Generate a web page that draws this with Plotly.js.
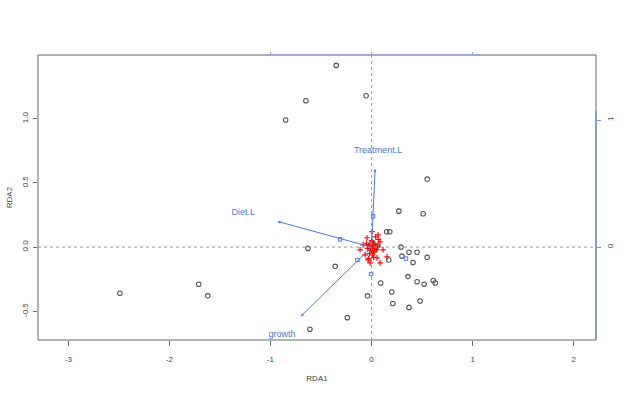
<!DOCTYPE html>
<html><head><meta charset="utf-8">
<script src="https://cdn.plot.ly/plotly-3.0.1.min.js"></script>
<style>html,body{margin:0;padding:0;background:#fff;}#chart{width:644px;height:393px;}</style>
</head><body><div id="chart"></div>
<script>
// Site scores (black open circles)
const siteX = [-0.35,-0.054,-0.65,-0.85,0.55,0.27,0.51,0.15,0.18,0.06,0.29,0.37,0.45,0.55,0.30,0.17,0.41,0.36,0.45,0.52,0.61,0.63,0.09,0.20,-0.04,0.21,0.37,0.48,-0.36,-0.63,-0.24,-0.61,-1.71,-1.62,-2.49];
const siteY = [1.416,1.18,1.14,0.99,0.53,0.28,0.26,0.12,0.12,0.01,0.00,-0.04,-0.04,-0.08,-0.07,-0.10,-0.12,-0.23,-0.27,-0.29,-0.26,-0.28,-0.28,-0.35,-0.38,-0.44,-0.47,-0.42,-0.15,-0.01,-0.55,-0.64,-0.29,-0.38,-0.36];
// Species scores (red crosses)
const spX = [0.01,-0.02,0.03,0.00,-0.03,0.02,0.04,-0.01,0.01,0.05,-0.04,0.02,0.00,0.03,-0.02,0.06,0.01,-0.05,0.03,0.00,-0.045,0.064,0.084,-0.064,0.054,0.114,-0.015,0.084,-0.084,0.005,-0.035,0.153,-0.114,0.02,0.07,-0.03,0.04];
const spY = [0.00,0.02,-0.01,-0.03,0.01,0.03,0.00,-0.02,0.04,-0.02,-0.01,-0.04,0.02,0.02,-0.05,0.01,-0.06,0.03,-0.03,0.05,0.073,0.096,0.041,-0.06,-0.084,-0.021,-0.123,-0.123,0.018,0.12,-0.10,-0.076,-0.021,-0.08,0.06,-0.09,0.08];
// Centroids (blue marks)
const cenX = [0.015,-0.31,-0.005,0.34,-0.14];
const cenY = [0.24,0.06,-0.21,-0.09,-0.10];
// Biplot arrows
const arrowNames = ["Treatment.L","Diet.L","growth"];
const arrowX = [0.035,-0.93,-0.70];
const arrowY = [0.61,0.20,-0.54];
const labelX = [0.064,-1.27,-0.886];
const labelY = [0.75,0.27,-0.685];
// Axis ticks
const xTicks = [-3,-2,-1,0,1,2];
const yTicks = [-0.5,0,0.5,1,1.5];
const yTickText = ["-0.5","0.0","0.5","1.0","1.5"];
const topTicks = [-1,0,1];
const rightTicks = [0,0.99];
const rightTickText = ["0","1"];

const blue = "#4f74d6";
const font = "Liberation Sans, Arial, sans-serif";

const traces = [
  {x: siteX, y: siteY, mode: "markers", type: "scatter",
   marker: {symbol: "circle-open", size: 4.5, color: "#555", line: {width: 1.1, color: "#555"}}, hoverinfo: "skip"},
  {x: spX, y: spY, mode: "markers", type: "scatter",
   marker: {symbol: "cross-thin-open", size: 4, color: "#f01010", line: {width: 1.2, color: "#f01010"}}, hoverinfo: "skip"},
  {x: cenX, y: cenY, mode: "markers", type: "scatter",
   marker: {symbol: "square-open", size: 3.5, color: blue, line: {width: 1, color: blue}}, hoverinfo: "skip"},
  {x: labelX, y: labelY, text: arrowNames, mode: "text", type: "scatter",
   textfont: {family: "Liberation Sans Narrow, Liberation Sans, Arial", size: 9, color: blue}, hoverinfo: "skip"},
  {x: [0], y: [0], xaxis: "x2", yaxis: "y2", mode: "markers", marker: {opacity: 0}, hoverinfo: "skip"}
];

const annotations = arrowNames.map((n, i) => ({
  x: arrowX[i], y: arrowY[i], xref: "x", yref: "y", ax: 0, ay: 0, axref: "x", ayref: "y",
  showarrow: true, arrowhead: 2, arrowsize: 0.6, arrowwidth: 1, arrowcolor: blue, text: ""
}));

const shapes = [
  {type: "line", xref: "x", yref: "paper", x0: 0, x1: 0, y0: 0, y1: 1, line: {color: "#999", width: 1, dash: "dot"}},
  {type: "line", xref: "paper", yref: "y", x0: 0, x1: 1, y0: 0, y1: 0, line: {color: "#999", width: 1, dash: "dot"}},
  {type: "rect", xref: "paper", yref: "paper", x0: 0, x1: 1, y0: 0, y1: 1, line: {color: "#666", width: 1}},
  {type: "line", xref: "x", yref: "paper", x0: -1.05, x1: 1.07, y0: 1, y1: 1, line: {color: "#8fa6e6", width: 1.2}},
  {type: "line", xref: "paper", yref: "y", x0: 1, x1: 1, y0: -0.724, y1: 1.06, line: {color: "#6f8fe0", width: 1.2}}
];

const layout = {
  width: 644, height: 393,
  margin: {l: 38, r: 48, t: 55, b: 53},
  paper_bgcolor: "#fff", plot_bgcolor: "#fff",
  showlegend: false,
  font: {family: font, size: 9, color: "#444"},
  xaxis: {range: [-3.30, 2.22], tickvals: xTicks, ticktext: xTicks.map(String), ticks: "outside", ticklen: 5,
          tickcolor: "#666", showgrid: false, zeroline: false, showline: false, ticklabelstandoff: 6,
          tickfont: {size: 8, color: "#444"},
          title: {text: "RDA1", font: {size: 8, color: "#444"}, standoff: 12}},
  yaxis: {range: [-0.724, 1.497], tickvals: yTicks, ticktext: yTickText, ticks: "outside", ticklen: 4,
          tickcolor: "#666", showgrid: false, zeroline: false, showline: false, tickangle: -90,
          tickfont: {size: 8, color: "#444"}, ticklabelstandoff: 2,
          title: {text: "RDA2", font: {size: 8, color: "#444"}, standoff: 6}},
  xaxis2: {overlaying: "x", side: "top", range: [-3.30, 2.22], tickvals: topTicks, ticks: "outside", ticklen: 2,
           tickcolor: "#8fa6e6", showticklabels: false, showgrid: false, zeroline: false, showline: false},
  yaxis2: {overlaying: "y", side: "right", range: [-0.724, 1.497], tickvals: rightTicks, ticktext: rightTickText,
           ticks: "outside", ticklen: 4, tickcolor: "#6f8fe0", tickangle: -90, showgrid: false, zeroline: false,
           showline: false, tickfont: {size: 8, color: "#444"}, ticklabelstandoff: 2},
  shapes: shapes,
  annotations: annotations
};

Plotly.newPlot("chart", traces, layout, {staticPlot: true, displayModeBar: false});
</script>
</body></html>
